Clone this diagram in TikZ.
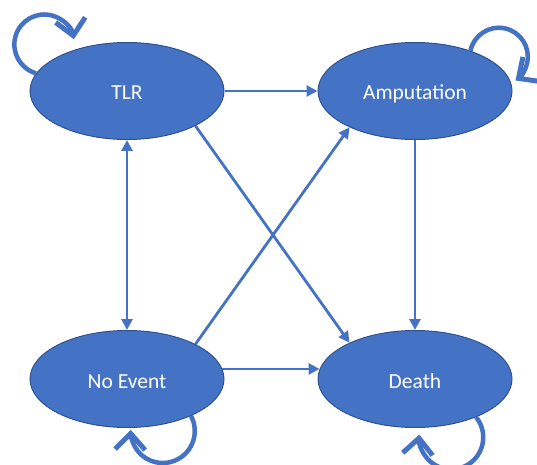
\documentclass[tikz,border=0pt]{standalone}
\usepackage{fontspec}
\setmainfont{Carlito}
\usetikzlibrary{arrows.meta,shapes.geometric}
\definecolor{fillblue}{HTML}{4472C4}
\definecolor{edgeblue}{HTML}{2F528F}
\begin{document}
\begin{tikzpicture}[x=1pt,y=1pt,
  >={Triangle[length=11pt,width=11pt]},
  state/.style={ellipse, fill=fillblue, draw=edgeblue, line width=1pt,
    minimum width=194pt, minimum height=97pt, inner sep=0pt,
    text height=18pt, text depth=0pt,
    text=white, font=\fontsize{21.5}{26}\selectfont},
  link/.style={draw=fillblue, line width=2.8pt},
  selfloop/.style={draw=fillblue, line width=4.5pt,
    -{Straight Barb[length=16pt,width=30pt,line width=5pt]}}]
\useasboundingbox (0,0) rectangle (537,464);
\node[state] (tlr) at (127,373) {TLR};
\node[state] (amp) at (415,373) {Amputation};
\node[state] (ne) at (127,85) {No Event};
\node[state] (death) at (415,85) {Death};
% straight transitions
\draw[link,->] (tlr.east) -- (amp.west);
\draw[link,<->] (tlr.south) -- (ne.north);
\draw[link,->] (amp.south) -- (death.north);
\draw[link,->] (ne.6) -- (death.174);
\draw[link,->] (tlr.-27) -- (death.151);
\draw[link,->] (ne.27) -- (amp.209);
% self loops
\draw[selfloop] (tlr.169) arc[start angle=254, end angle=10, radius=30];
\draw[selfloop] (amp.36) arc[start angle=168, end angle=-55, radius=29];
\draw[selfloop] (ne.-30) arc[start angle=28, end angle=-182, radius=32];
\draw[selfloop] (death.-32) arc[start angle=39, end angle=-185, radius=32];
\end{tikzpicture}
\end{document}
